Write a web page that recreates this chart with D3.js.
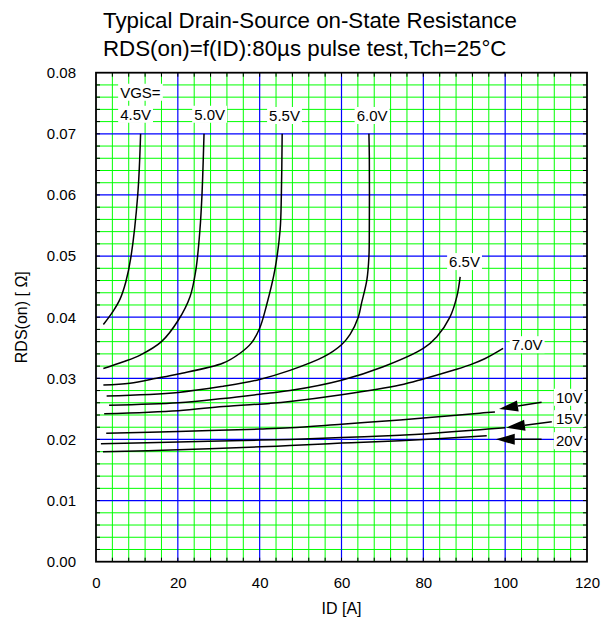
<!DOCTYPE html>
<html>
<head>
<meta charset="utf-8">
<script src="https://cdn.jsdelivr.net/npm/d3@7"></script>
<style>
  body { margin: 0; background: #fff; }
  svg { display: block; font-family: "Liberation Sans", Arial, sans-serif; }
</style>
</head>
<body>
<svg id="chart" width="609" height="620"></svg>
<script>
// ---------- data ----------
const titleLines = ["Typical Drain-Source on-State Resistance", "RDS(on)=f(ID):80\u00b5s pulse test,Tch=25\u00b0C"];
const xLabel = "ID [A]";
const yLabel = "RDS(on) [ \u03a9]";
const xTicks = [0, 20, 40, 60, 80, 100, 120];
const yTicks = [0.00, 0.01, 0.02, 0.03, 0.04, 0.05, 0.06, 0.07, 0.08];

const seriesNames = ["4.5V", "5.0V", "5.5V", "6.0V", "6.5V", "7.0V", "10V", "15V", "20V"];

const id45  = [1.8, 4.2, 5.9, 7.3, 8.5, 10.2, 10.9];
const rds45 = [0.0388, 0.0410, 0.0430, 0.0458, 0.0497, 0.0600, 0.0700];

const id50  = [1.8, 6.7, 10.8, 16.0, 20.1, 23.0, 24.4, 25.4, 25.9, 26.4];
const rds50 = [0.0316, 0.0327, 0.0338, 0.0360, 0.0395, 0.0434, 0.0477, 0.0543, 0.0600, 0.0700];

const id55  = [1.8, 8.3, 14.8, 20.1, 31.1, 35.2, 38.0, 40.0, 41.7, 43.7, 45.0, 45.3, 45.5];
const rds55 = [0.0289, 0.0292, 0.0300, 0.0307, 0.0325, 0.0341, 0.0358, 0.0382, 0.0420, 0.0477, 0.0543, 0.0600, 0.0700];

const id60  = [2.6, 20.1, 31.1, 39.3, 47.4, 55.6, 60.0, 62.1, 64.1, 64.9, 66.2, 66.7, 66.8, 66.8, 66.7];
const rds60 = [0.0271, 0.0277, 0.0287, 0.0297, 0.0313, 0.0335, 0.0355, 0.0372, 0.0400, 0.0423, 0.0461, 0.0499, 0.0543, 0.0663, 0.0700];

const id65  = [3.2, 20.1, 31.1, 42.5, 47.4, 60.0, 70.2, 80.0, 83.3, 86.5, 88.2, 89.0];
const rds65 = [0.0256, 0.0260, 0.0267, 0.0276, 0.0280, 0.0297, 0.0319, 0.0349, 0.0368, 0.0400, 0.0434, 0.0466];

const id70  = [2.0, 20.1, 31.1, 42.5, 47.4, 60.0, 74.3, 80.0, 87.7, 91.4, 95.0, 99.5];
const rds70 = [0.0242, 0.0247, 0.0254, 0.0259, 0.0262, 0.0273, 0.0289, 0.0299, 0.0314, 0.0322, 0.0332, 0.0349];

const id10  = [2.5, 20.1, 40.1, 47.4, 60.0, 74.3, 80.0, 93.8, 97.5];
const rds10 = [0.0210, 0.0213, 0.0217, 0.0219, 0.0225, 0.0232, 0.0235, 0.0243, 0.0245];

const id15  = [1.2, 20.1, 40.1, 47.4, 60.0, 74.3, 80.0, 93.8, 100.0];
const rds15 = [0.0193, 0.0196, 0.0199, 0.0200, 0.0203, 0.0207, 0.0209, 0.0216, 0.0219];

const id20  = [1.7, 20.1, 40.1, 47.4, 60.0, 74.3, 95.5];
const rds20 = [0.0180, 0.0183, 0.0188, 0.0190, 0.0194, 0.0198, 0.0206];

const seriesId  = [id45, id50, id55, id60, id65, id70, id10, id15, id20];
const seriesRds = [rds45, rds50, rds55, rds60, rds65, rds70, rds10, rds15, rds20];

// label anchors (data units: ID, RDS at text baseline)
const labelText = ["VGS=", "4.5V", "5.0V", "5.5V", "6.0V", "6.5V", "7.0V", "10V", "15V", "20V"];
const labelId   = [5.9, 5.9, 24.0, 42.3, 63.7, 86.3, 101.6, 112.4, 112.4, 112.4];
const labelRds  = [0.0759, 0.0723, 0.0723, 0.0721, 0.0721, 0.0482, 0.0346, 0.0260, 0.0225, 0.0189];

// arrows (from -> tip) in data units
const arrowFromId  = [108.9, 111.4, 108.9];
const arrowFromRds = [0.02608, 0.02291, 0.02003];
const arrowToId    = [98.5, 100.2, 97.7];
const arrowToRds   = [0.02499, 0.02193, 0.02003];

// ---------- layout ----------
const svg = d3.select("#chart");
const pLeft = 96, pTop = 72.7, pRight = 587, pBottom = 561.7;
const x = d3.scaleLinear().domain([0, 120]).range([pLeft, pRight]);
const y = d3.scaleLinear().domain([0, 0.08]).range([pBottom, pTop]);

// title
svg.selectAll("text.title").data(titleLines).enter().append("text")
  .attr("class", "title")
  .attr("x", 103).attr("y", (d, i) => 28 + i * 28)
  .attr("font-size", 22.3).attr("fill", "#000")
  .text(d => d);

// grid
const g = svg.append("g");
const minorX = d3.range(4, 120, 4).filter(v => v % 20 !== 0);
const majorX = d3.range(20, 120, 20);
const minorYi = d3.range(1, 40).filter(v => v % 5 !== 0);
const majorYi = d3.range(5, 40, 5);

g.selectAll("line.mx").data(minorX).enter().append("line")
  .attr("x1", d => x(d)).attr("x2", d => x(d)).attr("y1", pTop).attr("y2", pBottom)
  .attr("stroke", "#00ff00").attr("stroke-width", 1);
g.selectAll("line.my").data(minorYi).enter().append("line")
  .attr("y1", d => y(d * 0.002)).attr("y2", d => y(d * 0.002)).attr("x1", pLeft).attr("x2", pRight)
  .attr("stroke", "#00ff00").attr("stroke-width", 1);
g.selectAll("line.Mx").data(majorX).enter().append("line")
  .attr("x1", d => x(d)).attr("x2", d => x(d)).attr("y1", pTop).attr("y2", pBottom)
  .attr("stroke", "#0000ff").attr("stroke-width", 1.2);
g.selectAll("line.My").data(majorYi).enter().append("line")
  .attr("y1", d => y(d * 0.002)).attr("y2", d => y(d * 0.002)).attr("x1", pLeft).attr("x2", pRight)
  .attr("stroke", "#0000ff").attr("stroke-width", 1.2);

// inward ticks on all four sides
const tl = 4;
const tg = svg.append("g").attr("stroke", "#000").attr("stroke-width", 1);
minorX.concat(majorX).forEach(v => {
  tg.append("line").attr("x1", x(v)).attr("x2", x(v)).attr("y1", pBottom).attr("y2", pBottom - tl);
  tg.append("line").attr("x1", x(v)).attr("x2", x(v)).attr("y1", pTop).attr("y2", pTop + tl);
});
minorYi.concat(majorYi).forEach(v => {
  tg.append("line").attr("y1", y(v * 0.002)).attr("y2", y(v * 0.002)).attr("x1", pLeft).attr("x2", pLeft + tl);
  tg.append("line").attr("y1", y(v * 0.002)).attr("y2", y(v * 0.002)).attr("x1", pRight).attr("x2", pRight - tl);
});

// axes
const xAxis = d3.axisBottom(x).tickValues(xTicks).tickSize(0).tickPadding(16).tickFormat(d3.format("d"));
const yAxis = d3.axisLeft(y).tickValues(yTicks).tickSize(0).tickPadding(20).tickFormat(d3.format(".2f"));
const gx = svg.append("g").attr("transform", `translate(0,${pBottom})`).call(xAxis);
const gy = svg.append("g").attr("transform", `translate(${pLeft},0)`).call(yAxis);
[gx, gy].forEach(a => {
  a.select(".domain").remove();
  a.selectAll("text").attr("font-size", 15).attr("fill", "#000").attr("font-family", "Liberation Sans, Arial, sans-serif");
});

// frame
svg.append("rect").attr("x", pLeft).attr("y", pTop).attr("width", pRight - pLeft).attr("height", pBottom - pTop)
  .attr("fill", "none").attr("stroke", "#000").attr("stroke-width", 1.8);

// axis titles
svg.append("text").attr("x", (pLeft + pRight) / 2).attr("y", 614).attr("text-anchor", "middle")
  .attr("font-size", 16).text(xLabel);
svg.append("text").attr("transform", `translate(27,${(pTop + pBottom) / 2}) rotate(-90)`)
  .attr("text-anchor", "middle").attr("font-size", 16).text(yLabel);

// curves
const line = d3.line().x(d => x(d[0])).y(d => y(d[1])).curve(d3.curveCatmullRom.alpha(0.5));
seriesId.forEach((ids, i) => {
  const pts = ids.map((v, j) => [v, seriesRds[i][j]]);
  svg.append("path").attr("d", line(pts)).attr("fill", "none")
    .attr("stroke", "#000").attr("stroke-width", 1.5);
});

// labels with white boxes
const lg = svg.append("g");
labelText.forEach((t, i) => {
  const grp = lg.append("g");
  const txt = grp.append("text").attr("x", x(labelId[i])).attr("y", y(labelRds[i]))
    .attr("font-size", 15).attr("fill", "#000").text(t);
  const bb = txt.node().getBBox();
  grp.insert("rect", "text").attr("x", bb.x - 2).attr("y", bb.y).attr("width", bb.width + 4).attr("height", bb.height)
    .attr("fill", "#fff");
});

// arrows
const ag = svg.append("g");
arrowFromId.forEach((v, i) => {
  const x1 = x(v), y1 = y(arrowFromRds[i]), x2 = x(arrowToId[i]), y2 = y(arrowToRds[i]);
  const ang = Math.atan2(y2 - y1, x2 - x1);
  const hl = 19, hw = 5.5;
  const bx = x2 - hl * Math.cos(ang), by = y2 - hl * Math.sin(ang);
  ag.append("line").attr("x1", x1).attr("y1", y1).attr("x2", bx).attr("y2", by)
    .attr("stroke", "#000").attr("stroke-width", 1.5);
  const px = -Math.sin(ang) * hw, py = Math.cos(ang) * hw;
  ag.append("path").attr("d", `M${x2},${y2}L${bx + px},${by + py}L${bx - px},${by - py}Z`).attr("fill", "#000");
});
</script>
</body>
</html>
